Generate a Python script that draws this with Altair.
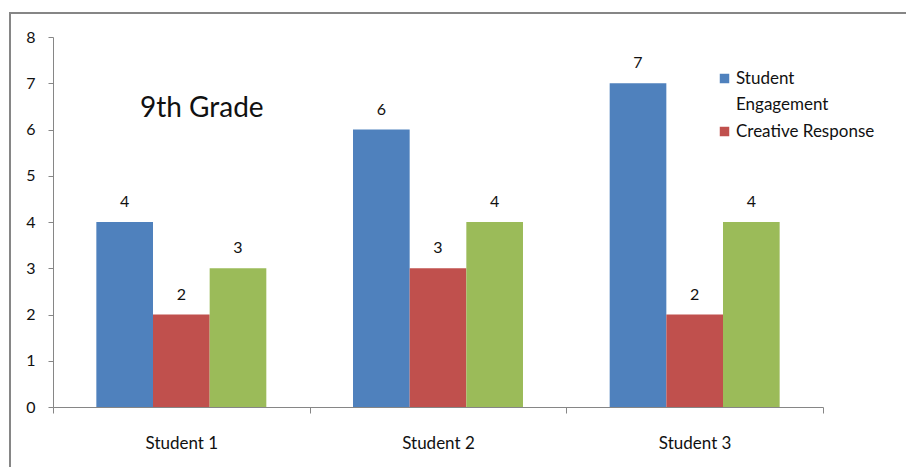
import altair as alt
import pandas as pd

# Scores per student for each rubric series
students = ["Student 1", "Student 2", "Student 3"]
series = ["Student Engagement", "Creative Response", "Series 3"]
engagement = [4, 6, 7]
creative = [2, 3, 2]
third = [3, 4, 4]
colors = ["#4F81BD", "#C0504D", "#9BBB59"]
legend_entries = ["Student Engagement", "Creative Response"]
y_ticks = [0, 1, 2, 3, 4, 5, 6, 7, 8]
chart_title = "9th Grade"

rows = []
for name, vals in zip(series, [engagement, creative, third]):
    for s, v in zip(students, vals):
        rows.append({"student": s, "series": name, "value": v})
df = pd.DataFrame(rows)

FONT = "Lato"
GRAY = "#868686"
INK = "#111111"

x_enc = alt.X(
    "student:N", sort=students, title=None,
    scale=alt.Scale(paddingInner=0, paddingOuter=0),
    axis=alt.Axis(labelAngle=0, tickBand="extent", tickSize=6, labelPadding=22,
                  labelFontSize=17, labelFont=FONT, labelColor=INK,
                  domainColor=GRAY, tickColor=GRAY),
)
xo_enc = alt.XOffset("series:N", sort=series,
                     scale=alt.Scale(paddingInner=0, paddingOuter=0.765))
y_enc = alt.Y(
    "value:Q", title=None,
    scale=alt.Scale(domain=[0, 8], nice=False),
    axis=alt.Axis(values=y_ticks, grid=False, tickSize=5, labelPadding=13,
                  labelFontSize=16, labelFont=FONT, labelColor=INK,
                  domainColor=GRAY, tickColor=GRAY),
)
color_enc = alt.Color(
    "series:N", sort=series,
    scale=alt.Scale(domain=series, range=colors),
    legend=alt.Legend(
        title=None, values=legend_entries, orient="none",
        legendX=663, legendY=33, symbolType="square", symbolSize=90,
        symbolStrokeWidth=0, labelFontSize=17, labelFont=FONT,
        labelColor=INK, labelOffset=3, rowPadding=9, padding=0,
        labelLimit=300,
        labelExpr="datum.label == 'Student Engagement' ? ['Student', 'Engagement'] : datum.label",
    ),
)

base = alt.Chart(df)

bars = base.mark_bar().encode(x=x_enc, xOffset=xo_enc, y=y_enc, color=color_enc)

labels = base.mark_text(baseline="alphabetic", dy=-15, fontSize=16,
                        font=FONT, color=INK).encode(
    x=x_enc, xOffset=xo_enc, y=y_enc, text="value:Q"
)

title_text = alt.Chart(pd.DataFrame({"t": [chart_title]})).mark_text(
    align="left", baseline="alphabetic", fontSize=28, font=FONT, color=INK
).encode(x=alt.value(87), y=alt.value(80), text="t:N")

frame = alt.Chart(pd.DataFrame({"f": [0]})).mark_rect(
    fill="transparent", stroke=GRAY, strokeWidth=2
).encode(x=alt.value(-43), x2=alt.value(900), y=alt.value(-24), y2=alt.value(500))

chart = alt.layer(frame, bars, labels, title_text).properties(
    width=770, height=370, autosize="none",
    padding={"left": 53, "top": 37, "right": 83, "bottom": 60},
).configure(
    style={"guide-label": {"lineHeight": 26}},
).configure_view(strokeWidth=0)

chart.save("out.html", embed_options={"renderer": "svg", "actions": False})
